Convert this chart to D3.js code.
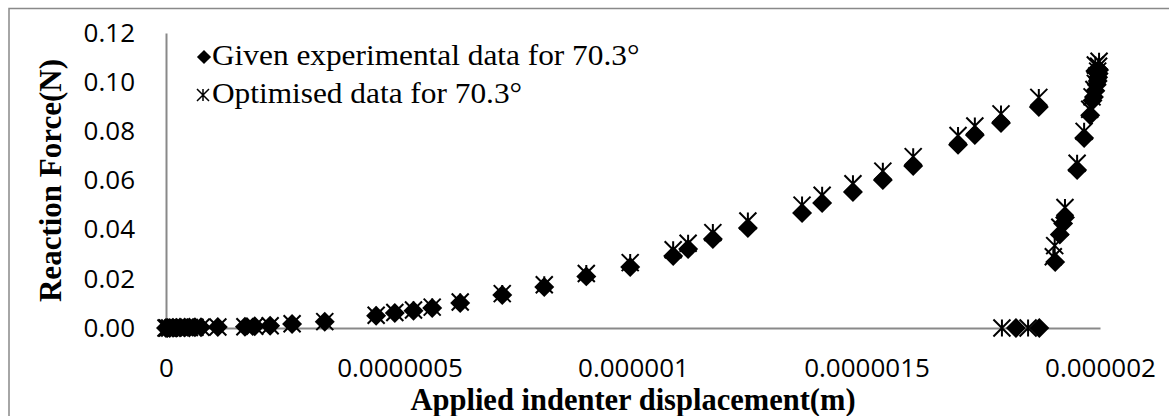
<!DOCTYPE html>
<html>
<head>
<meta charset="utf-8">
<script src="https://cdn.jsdelivr.net/npm/d3@7"></script>
<style>
  body { margin: 0; background: #fff; }
  svg { display: block; }
</style>
</head>
<body>
<div id="chart"></div>
<script>
// experimental data (given) - displacement in m, force in N
const expDisp = [0, 3e-9, 8e-9, 1.5e-8, 2.2e-8, 3e-8, 4e-8, 5e-8, 6.2e-8, 7.5e-8, 1.11e-7, 1.69e-7, 1.9e-7, 2.23e-7, 2.7e-7, 3.4e-7,
  4.5e-7, 4.9e-7, 5.3e-7, 5.7e-7, 6.3e-7, 7.2e-7, 8.1e-7, 9.0e-7, 9.94e-7, 1.086e-6, 1.118e-6, 1.171e-6, 1.246e-6,
  1.362e-6, 1.405e-6, 1.471e-6, 1.535e-6, 1.6e-6, 1.696e-6, 1.732e-6, 1.788e-6, 1.869e-6, 1.99e-6,
  1.998e-6, 1.997e-6, 1.996e-6, 1.995e-6, 1.993e-6, 1.99e-6, 1.987e-6, 1.984e-6, 1.979e-6, 1.966e-6, 1.951e-6,
  1.925e-6, 1.921e-6, 1.914e-6, 1.904e-6, 1.87e-6, 1.82e-6];
const expForce = [0, 0, 0, 0.0001, 0.0001, 0.0002, 0.0002, 0.0002, 0.0003, 0.0003, 0.0004, 0.0005, 0.0007, 0.0009, 0.0016, 0.0025,
  0.005, 0.0061, 0.007, 0.0081, 0.0102, 0.0134, 0.0167, 0.021, 0.0248, 0.0293, 0.0321, 0.0362, 0.0407,
  0.0468, 0.0508, 0.0553, 0.0602, 0.0659, 0.0745, 0.0785, 0.0834, 0.0899, 0.1045,
  0.105, 0.1035, 0.102, 0.1005, 0.099, 0.0965, 0.094, 0.0925, 0.0865, 0.0773, 0.0643,
  0.045, 0.0425, 0.038, 0.0268, 0, 0];

// optimised data
const optDisp = [0, 3e-9, 8e-9, 1.5e-8, 2.2e-8, 3e-8, 4e-8, 5e-8, 6.2e-8, 7.5e-8, 1.11e-7, 1.69e-7, 1.9e-7, 2.23e-7, 2.7e-7, 3.4e-7,
  4.5e-7, 4.9e-7, 5.3e-7, 5.7e-7, 6.3e-7, 7.2e-7, 8.1e-7, 9.0e-7, 9.94e-7, 1.086e-6, 1.118e-6, 1.171e-6, 1.246e-6,
  1.362e-6, 1.405e-6, 1.471e-6, 1.535e-6, 1.6e-6, 1.696e-6, 1.732e-6, 1.788e-6, 1.869e-6, 1.99e-6,
  1.998e-6, 1.997e-6, 1.995e-6, 1.993e-6, 1.99e-6, 1.987e-6, 1.983e-6, 1.978e-6, 1.966e-6, 1.951e-6,
  1.925e-6, 1.914e-6, 1.903e-6, 1.9e-6, 1.846e-6, 1.79e-6];
const optForce = [0, 0, 0, 0.0001, 0.0001, 0.0002, 0.0002, 0.0002, 0.0003, 0.0003, 0.0004, 0.0005, 0.0007, 0.0009, 0.0017, 0.0026,
  0.0052, 0.0063, 0.0073, 0.0085, 0.0106, 0.014, 0.0176, 0.0222, 0.0266, 0.0318, 0.0345, 0.0388, 0.0435,
  0.05, 0.054, 0.0587, 0.0638, 0.0697, 0.0783, 0.0822, 0.0871, 0.0938, 0.107,
  0.1085, 0.1065, 0.1045, 0.1025, 0.0995, 0.097, 0.094, 0.089, 0.08, 0.067,
  0.049, 0.041, 0.0335, 0.029, 0, 0];

const xTicks = [0, 5e-7, 1e-6, 1.5e-6, 2e-6];
const xTickLabels = ["0", "0.0000005", "0.000001", "0.0000015", "0.000002"];
const yTicks = [0, 0.02, 0.04, 0.06, 0.08, 0.1, 0.12];
const yTickLabels = ["0.00", "0.02", "0.04", "0.06", "0.08", "0.10", "0.12"];

const seriesNames = ["Given experimental data for 70.3°", "Optimised data for 70.3°"];

const width = 1169, height = 416;
const axisColor = "#898989";
const serif = "'Liberation Serif', 'Times New Roman', serif";

const svg = d3.select("#chart").append("svg")
  .attr("width", width)
  .attr("height", height);

// outer chart border (only top & left visible in the crop)
svg.append("path")
  .attr("d", `M9,${height} L9,8.5 L${width},8.5`)
  .attr("fill", "none")
  .attr("stroke", axisColor)
  .attr("stroke-width", 1.5);

const x = d3.scaleLinear().domain([0, 2e-6]).range([166, 1100]);
const y = d3.scaleLinear().domain([0, 0.12]).range([328, 33]);

const tickFont = "'Open Sans', 'DejaVu Sans', sans-serif";

// x axis
const gx = svg.append("g")
  .attr("transform", `translate(0,${y(0)})`)
  .call(d3.axisBottom(x).tickValues(xTicks)
    .tickFormat((d, i) => xTickLabels[i])
    .tickSize(0).tickSizeOuter(0).tickPadding(31));
gx.select(".domain").attr("stroke", axisColor).attr("stroke-width", 2);
gx.selectAll("text")
  .style("font-family", tickFont)
  .style("font-size", "26px")
  .attr("fill", "#000");

// y axis
const gy = svg.append("g")
  .attr("transform", `translate(${x(0)},0)`)
  .call(d3.axisLeft(y).tickValues(yTicks)
    .tickFormat((d, i) => yTickLabels[i])
    .tickSize(0).tickSizeOuter(0).tickPadding(31));
gy.select(".domain").attr("stroke", axisColor).attr("stroke-width", 2);
gy.selectAll("text")
  .style("font-family", tickFont)
  .style("font-size", "26px")
  .attr("fill", "#000");

// axis titles
svg.append("text")
  .attr("x", (x.range()[0] + x.range()[1]) / 2)
  .attr("y", 410)
  .attr("text-anchor", "middle")
  .style("font-family", serif)
  .style("font-weight", "bold")
  .style("font-size", "30.5px")
  .text("Applied indenter displacement(m)");

svg.append("text")
  .attr("transform", `translate(61,${(y.range()[0] + y.range()[1]) / 2}) rotate(-90)`)
  .attr("text-anchor", "middle")
  .style("font-family", serif)
  .style("font-weight", "bold")
  .style("font-size", "31px")
  .text("Reaction Force(N)");

// marker shapes
const diamond = d3.symbol().type(d3.symbolSquare).size(200);
const diamondSmall = d3.symbol().type(d3.symbolSquare).size(100);
function asterisk(s) {
  return `M${-s},${-s}L${s},${s}M${-s},${s}L${s},${-s}M0,${-s}L0,${s}`;
}

const optData = optDisp.map((d, i) => [d, optForce[i]]);
const expData = expDisp.map((d, i) => [d, expForce[i]]);

// optimised markers (drawn underneath)
svg.append("g").selectAll("path")
  .data(optData)
  .enter()
  .append("path")
  .attr("d", asterisk(8.5))
  .attr("transform", d => `translate(${x(d[0])},${y(d[1])})`)
  .attr("fill", "none")
  .attr("stroke", "#000")
  .attr("stroke-width", 2);

// experimental markers
svg.append("g").selectAll("path")
  .data(expData)
  .enter()
  .append("path")
  .attr("d", diamond)
  .attr("transform", d => `translate(${x(d[0])},${y(d[1])}) rotate(45)`)
  .attr("fill", "#000");

// legend
const legend = svg.append("g");
legend.append("path")
  .attr("d", diamondSmall)
  .attr("transform", "translate(204,57) rotate(45)")
  .attr("fill", "#000");
legend.append("path")
  .attr("d", asterisk(6))
  .attr("transform", "translate(203,95)")
  .attr("fill", "none")
  .attr("stroke", "#000")
  .attr("stroke-width", 1.5);
legend.selectAll("text")
  .data(seriesNames)
  .enter()
  .append("text")
  .attr("transform", (d, i) => `translate(212,${65 + i * 38}) scale(1.1,1)`)
  .style("font-family", serif)
  .style("font-size", "28.5px")
  .text(d => d);
</script>
</body>
</html>
